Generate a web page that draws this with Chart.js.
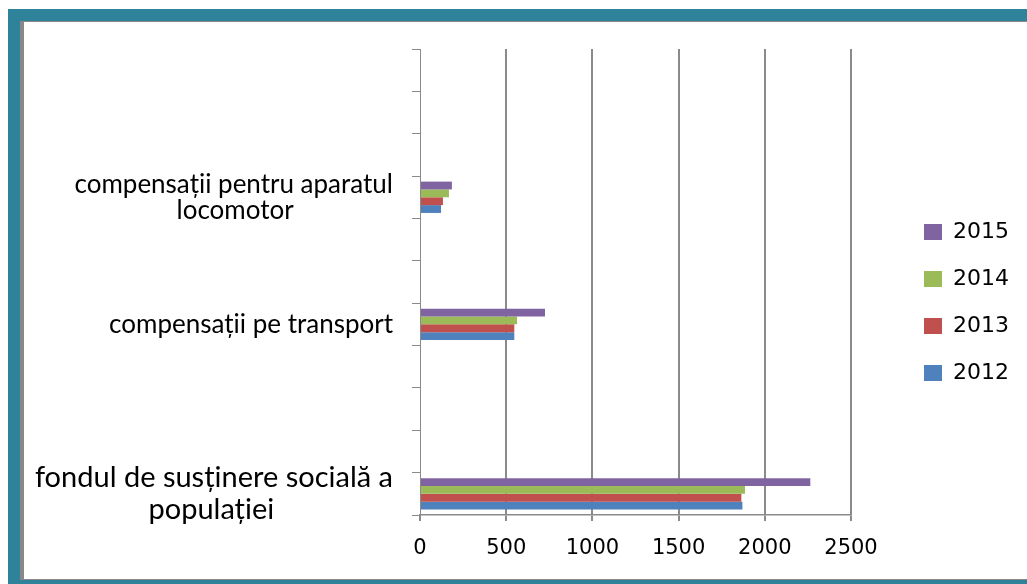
<!DOCTYPE html>
<html>
<head>
<meta charset="utf-8">
<title>Compensatii 2012-2015</title>
<script src="https://cdn.jsdelivr.net/npm/chart.js@4.4.0/dist/chart.umd.min.js"></script>
<style>
	body { margin: 0; background: #fff; width: 1027px; height: 584px; overflow: hidden; position: relative; }
	#teal { position: absolute; left: 8px; top: 9px; right: 0; bottom: 0; background: #2e8299; }
	#edge { position: absolute; left: 20px; top: 21px; right: 0; bottom: 4px; background: #888; }
	#myChart { position: absolute; left: 24px; top: 22px; background: #fff; }
</style>
</head>
<body>
<div id="teal"></div>
<div id="edge"></div>
<canvas id="myChart" width="1003" height="557"></canvas>
<script>
// categories, top to bottom (empty slots are blank rows of the original sheet)
const categories = [
	'', '', '',
	['compensații pentru aparatul', 'locomotor'],
	'', '',
	'compensații pe transport',
	'', '', '',
	['fondul de susținere socială a', 'populației']
];

const years = ['2015', '2014', '2013', '2012'];

const values2015 = [null, null, null, 185, null, null, 725, null, null, null, 2264];
const values2014 = [null, null, null, 168, null, null, 563, null, null, null, 1885];
const values2013 = [null, null, null, 133, null, null, 547, null, null, null, 1864];
const values2012 = [null, null, null, 122, null, null, 547, null, null, null, 1870];

const xTicks = [0, 500, 1000, 1500, 2000, 2500];

const seriesValues = [values2015, values2014, values2013, values2012];
const colors = ['#8064a2', '#9bbb59', '#c0504d', '#4f81bd'];
const gray = '#8a8a8a';

const labelFont = (index) => index === categories.length - 1
	? { family: 'Lato', size: 29, lineHeight: 1.1 }
	: { family: 'Lato', size: 26, lineHeight: 1.0 };

// labels are right aligned, but the lines of a wrapped label are centred on each other
const measureCtx = document.createElement('canvas').getContext('2d');
const centreLines = (label, index) => {
	if (!Array.isArray(label)) return label;
	const f = labelFont(index);
	measureCtx.font = f.size + 'px ' + f.family;
	const widths = label.map(l => measureCtx.measureText(l).width);
	const widest = Math.max(...widths);
	const nbsp = measureCtx.measureText('\u00a0').width;
	return label.map((l, i) => l + '\u00a0'.repeat(Math.round((widest - widths[i]) / 2 / nbsp)));
};

const datasets = years.map((y, i) => ({
	label: y,
	data: seriesValues[i],
	backgroundColor: colors[i],
	borderWidth: 0,
	xAxisID: 'x',
	yAxisID: 'y',
	barPercentage: 1,
	categoryPercentage: 0.74
}));

const config = {
	type: 'bar',
	data: { labels: categories, datasets: datasets },
	options: {
		indexAxis: 'y',
		responsive: false,
		animation: false,
		devicePixelRatio: 1,
		layout: { padding: { top: 27, right: 8, bottom: 23, left: 0 } },
		plugins: {
			tooltip: { enabled: false },
			legend: {
				position: 'right',
				labels: {
					boxWidth: 18,
					boxHeight: 16,
					padding: 25,
					color: '#000',
					font: { family: 'DejaVu Sans', size: 22 }
				}
			}
		},
		scales: {
			x: {
				min: xTicks[0],
				max: xTicks[xTicks.length - 1],
				afterBuildTicks: (s) => { s.ticks = xTicks.map(v => ({ value: v })); },
				ticks: {
					color: '#000',
					padding: 15,
					font: { family: 'DejaVu Sans', size: 21 },
					callback: (v) => String(v)
				},
				grid: {
					color: (ctx) => ctx.tick && ctx.tick.value === 0 ? 'rgba(0,0,0,0)' : gray,
					tickColor: gray,
					lineWidth: 2,
					tickLength: 6
				},
				border: { color: gray, width: 1.5 },
				afterFit: (s) => { s.height = 41; }
			},
			y: {
				ticks: {
					autoSkip: false,
					color: '#000',
					crossAlign: 'near',
					padding: 19,
					font: (ctx) => labelFont(ctx.index),
					callback: (v, i) => centreLines(categories[i], i)
				},
				grid: { drawOnChartArea: false, color: gray, tickLength: 8, lineWidth: 1 },
				border: { color: gray, width: 1 },
				afterFit: (s) => {
					s.width = 396;
					s.paddingTop = 0;
					s.paddingBottom = 0;
				}
			},
			// empty box keeping the gap between plot and legend
			yGap: {
				type: 'category',
				position: 'right',
				grid: { display: false },
				border: { display: false },
				ticks: { display: false },
				afterFit: (s) => { s.width = 48; }
			}
		}
	}
};

const chartt = new Chart(document.getElementById('myChart'), config);
</script>
</body>
</html>
